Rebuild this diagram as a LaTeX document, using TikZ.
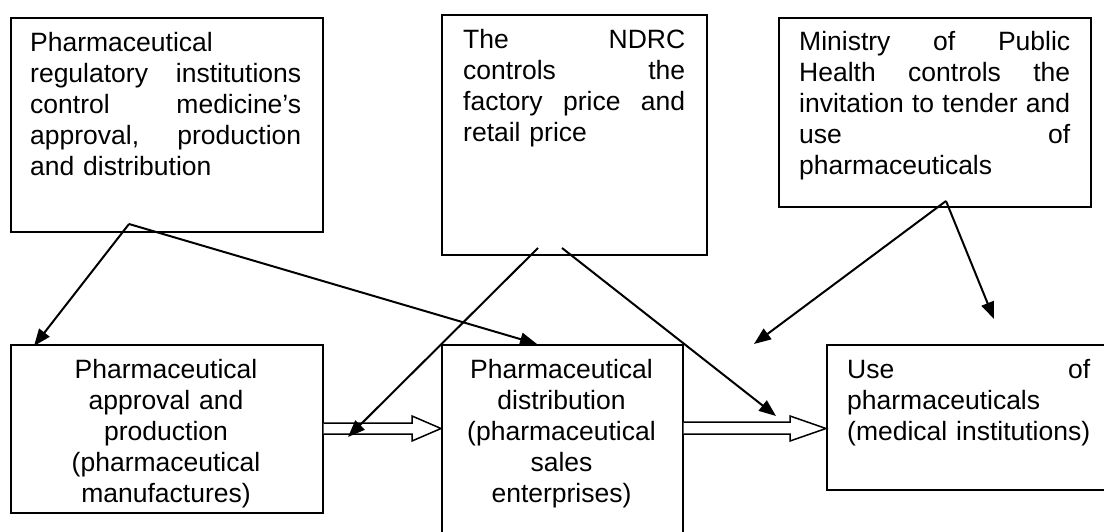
\documentclass[tikz,border=0pt]{standalone}
\usepackage{fontspec}
\setmainfont{Liberation Sans}
\usetikzlibrary{arrows.meta}
\tikzset{
  boxframe/.style={draw, line width=1.6pt, inner sep=0pt, anchor=north west},
  boxtext/.style={inner sep=0pt, anchor=base west, align=left, font=\fontsize{26.5}{31}\selectfont},
  ctext/.style={inner sep=0pt, anchor=base, align=center, font=\fontsize{26.5}{31}\selectfont},
  thinarrow/.style={line width=2pt, -{Triangle[length=17pt,width=13pt]}},
  blockarrow/.style={draw, line width=1.5pt, fill=white, line join=miter}
}
\begin{document}
\begin{tikzpicture}[x=1pt,y=-1pt]
\path[use as bounding box] (0,0) rectangle (1104,532);
\clip (0,0) rectangle (1104,532);
% boxes
\node[boxframe, minimum width=312pt, minimum height=214pt] (A) at (10,17) {};
\node[boxframe, minimum width=265pt, minimum height=240pt] (B) at (441,14) {};
\node[boxframe, minimum width=312pt, minimum height=189pt] (C) at (778,17) {};
\node[boxframe, minimum width=312pt, minimum height=168pt] (D) at (10,344) {};
\node[boxframe, minimum width=241pt, minimum height=230pt] (E) at (441,344) {};
\node[boxframe, minimum width=300pt, minimum height=145pt] (F) at (826,344) {};
% texts
\node[boxtext, text width=271pt] (At) at (30,52) {Pharmaceutical\\regulatory\hfill institutions\\control\hfill medicine’s\\approval,\hfill production\\and distribution};
\node[boxtext, text width=222pt] (Bt) at (463,49) {The\hfill NDRC\\controls\hfill the\\factory\hfill price\hfill and\\retail price};
\node[boxtext, text width=271pt] (Ct) at (799,51) {Ministry\hfill of\hfill Public\\Health\hfill controls\hfill the\\invitation\hfill to\hfill tender\hfill and\\use\hfill of\\pharmaceuticals};
\node[ctext, text width=272pt] (Dt) at (166,378) {Pharmaceutical\\approval and\\production\\(pharmaceutical\\manufactures)};
\node[ctext, text width=220pt] (Et) at (561.5,378) {Pharmaceutical\\distribution\\(pharmaceutical\\sales\\enterprises)};
\node[boxtext, text width=243pt] (Ft) at (847,378) {Use\hfill of\\pharmaceuticals\\\mbox{(medical institutions)}};
% block arrows
\draw[blockarrow] (D.east |- 0,423) -- (412,423) -- (412,416) -- (E.west |- 0,428.5) -- (412,441) -- (412,434) -- (D.east |- 0,434);
\draw[blockarrow] (E.east |- 0,422) -- (790,422) -- (790,416) -- (F.west |- 0,428.5) -- (790,441) -- (790,434) -- (E.east |- 0,434);
% arrow endpoints
\coordinate (sA) at (129,224);
\coordinate (sB1) at (538,248);
\coordinate (sB2) at (562,248);
\coordinate (sC) at (946,201);
\coordinate (tD) at (34,346);
\coordinate (tE) at (537,344);
\coordinate (tDE) at (348,437);
\coordinate (tEF) at (776,416);
\coordinate (tF1) at (754,344);
\coordinate (tF2) at (994,319);
\draw[thinarrow] (sA) -- (tD);
\draw[thinarrow] (sA) -- (tE);
\draw[thinarrow] (sB1) -- (tDE);
\draw[thinarrow] (sB2) -- (tEF);
\draw[thinarrow] (sC) -- (tF1);
\draw[thinarrow] (sC) -- (tF2);
\end{tikzpicture}
\end{document}
